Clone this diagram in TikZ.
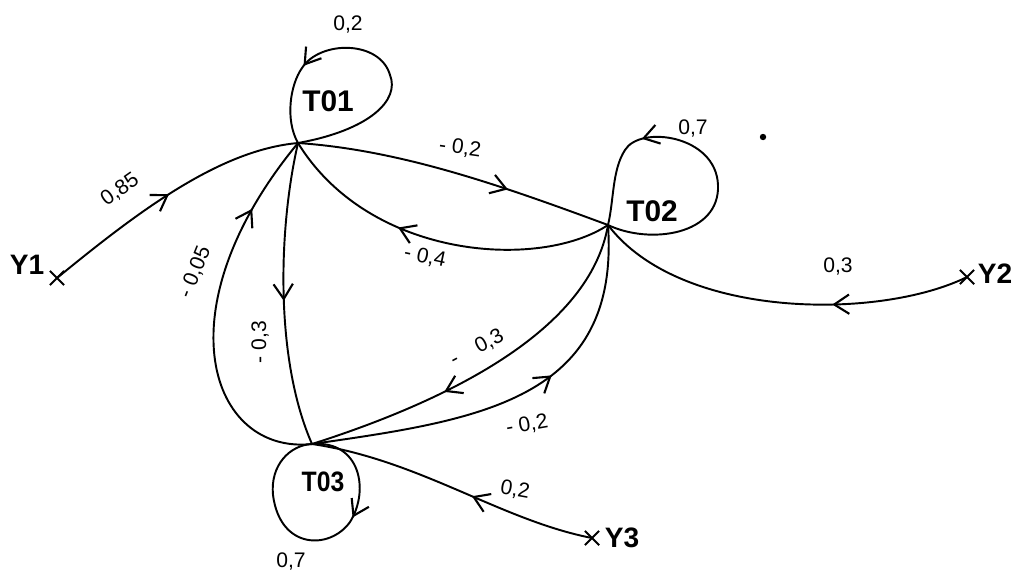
\documentclass[tikz,border=0pt]{standalone}
\usepackage{fontspec}
\setmainfont{Liberation Sans}
\usetikzlibrary{arrows.meta,decorations.markings,shapes.misc}
\begin{document}
\begin{tikzpicture}[x=0.02cm,y=-0.02cm,
  edge/.style={line width=1.1pt, line cap=round, line join=round},
  arr/.style={postaction={decorate},decoration={markings,mark=at position #1 with {\arrow{Straight Barb[length=8.5pt,width=11pt,line width=1.2pt]}}}},
  arr/.default=0.5,
  state/.style={font=\fontsize{17}{20}\selectfont\bfseries, inner sep=0pt},
  wt/.style={font=\fontsize{12}{14}\selectfont, inner sep=0pt},
  endpt/.style={draw, cross out, minimum size=7pt, inner sep=0pt, line width=1.1pt}
]
\useasboundingbox (0,0) rectangle (1013,572);

% junction points
\coordinate (j1) at (298,143);
\coordinate (j2) at (608,225);
\coordinate (j3) at (312,444);
\node[endpt] (y1) at (57,278) {};
\node[endpt] (y2) at (967,277) {};
\node[endpt] (y3) at (592,538) {};

% state labels
\node[state] (T01) at (328,101) {T01};
\node[state] (T02) at (652,211) {T02};
\node[state, font=\fontsize{16}{19}\selectfont\bfseries, xscale=0.88] (T03) at (323,482) {T03};
\node[state, font=\fontsize{16}{19}\selectfont\bfseries] (Y1) at (27,265) {Y1};
\node[state, font=\fontsize{16}{19}\selectfont\bfseries] (Y2) at (995,274) {Y2};
\node[state, font=\fontsize{16}{19}\selectfont\bfseries] (Y3) at (622,538) {Y3};

% stray dot
\fill (763,137) circle (3.2);

% Y1 -> T01
\draw[edge, arr=0.5] (y1.center) .. controls (140,210) and (220,150) .. (j1);
\node[wt, rotate=35] (w1) at (120,190) {0,85};

% T01 self loop
\draw[edge, arr=0.74] (j1) .. controls (370,130) and (400,100) .. (390,75)
   .. controls (380,40) and (320,40) .. (302,68)
   .. controls (290,85) and (285,120) .. (j1);
\node[wt] (w2) at (348,24) {0,2};

% T01 -> T02
\draw[edge, arr=0.67] (j1) .. controls (400,150) and (500,185) .. (j2);
\node[wt, rotate=-8] (w3) at (460,148) {- 0,2};

% T02 -> T01
\draw[edge, arr=0.62] (j2) .. controls (540,270) and (370,260) .. (j1);
\node[wt, rotate=-12] (w4) at (425,257) {- 0,4};

% T01 -> T03
\draw[edge, arr=0.52] (j1) .. controls (278,230) and (275,360) .. (j3);
\node[wt, rotate=90] (w5) at (260,342) {- 0,3};

% T03 -> T01
\draw[edge, arr=0.79] (j3) .. controls (210,455) and (160,310) .. (j1);
\node[wt, rotate=68] (w6) at (195,272) {- 0,05};

% T02 self loop
\draw[edge, arr=0.71] (j2) .. controls (650,245) and (720,235) .. (718,185)
   .. controls (716,135) and (640,125) .. (625,150)
   .. controls (612,170) and (614,200) .. (j2);
\node[wt] (w7) at (693,128) {0,7};

% Y2 -> T02
\draw[edge, arr=0.36] (y2.center) .. controls (880,320) and (680,320) .. (j2);
\node[wt] (w8) at (838,266) {0,3};

% T02 -> T03 (upper)
\draw[edge, arr=0.63] (j2) .. controls (590,330) and (450,400) .. (j3);
\node[wt, rotate=28] (w9) at (477,348) {-\quad0,3};

% T03 -> T02 (lower)
\draw[edge, arr=0.6] (j3) .. controls (480,420) and (620,400) .. (j2);
\node[wt, rotate=10] (w10) at (527,425) {- 0,2};

% Y3 -> T03
\draw[edge, arr=0.43] (y3.center) .. controls (500,520) and (420,460) .. (j3);
\node[wt, rotate=-10] (w11) at (515,490) {0,2};

% T03 self loop
\draw[edge, arr=0.36] (j3) .. controls (360,440) and (370,490) .. (350,522)
   .. controls (330,550) and (280,550) .. (273,495)
   .. controls (270,465) and (290,445) .. (j3);
\node[wt] (w12) at (291,561) {0,7};
\end{tikzpicture}
\end{document}
